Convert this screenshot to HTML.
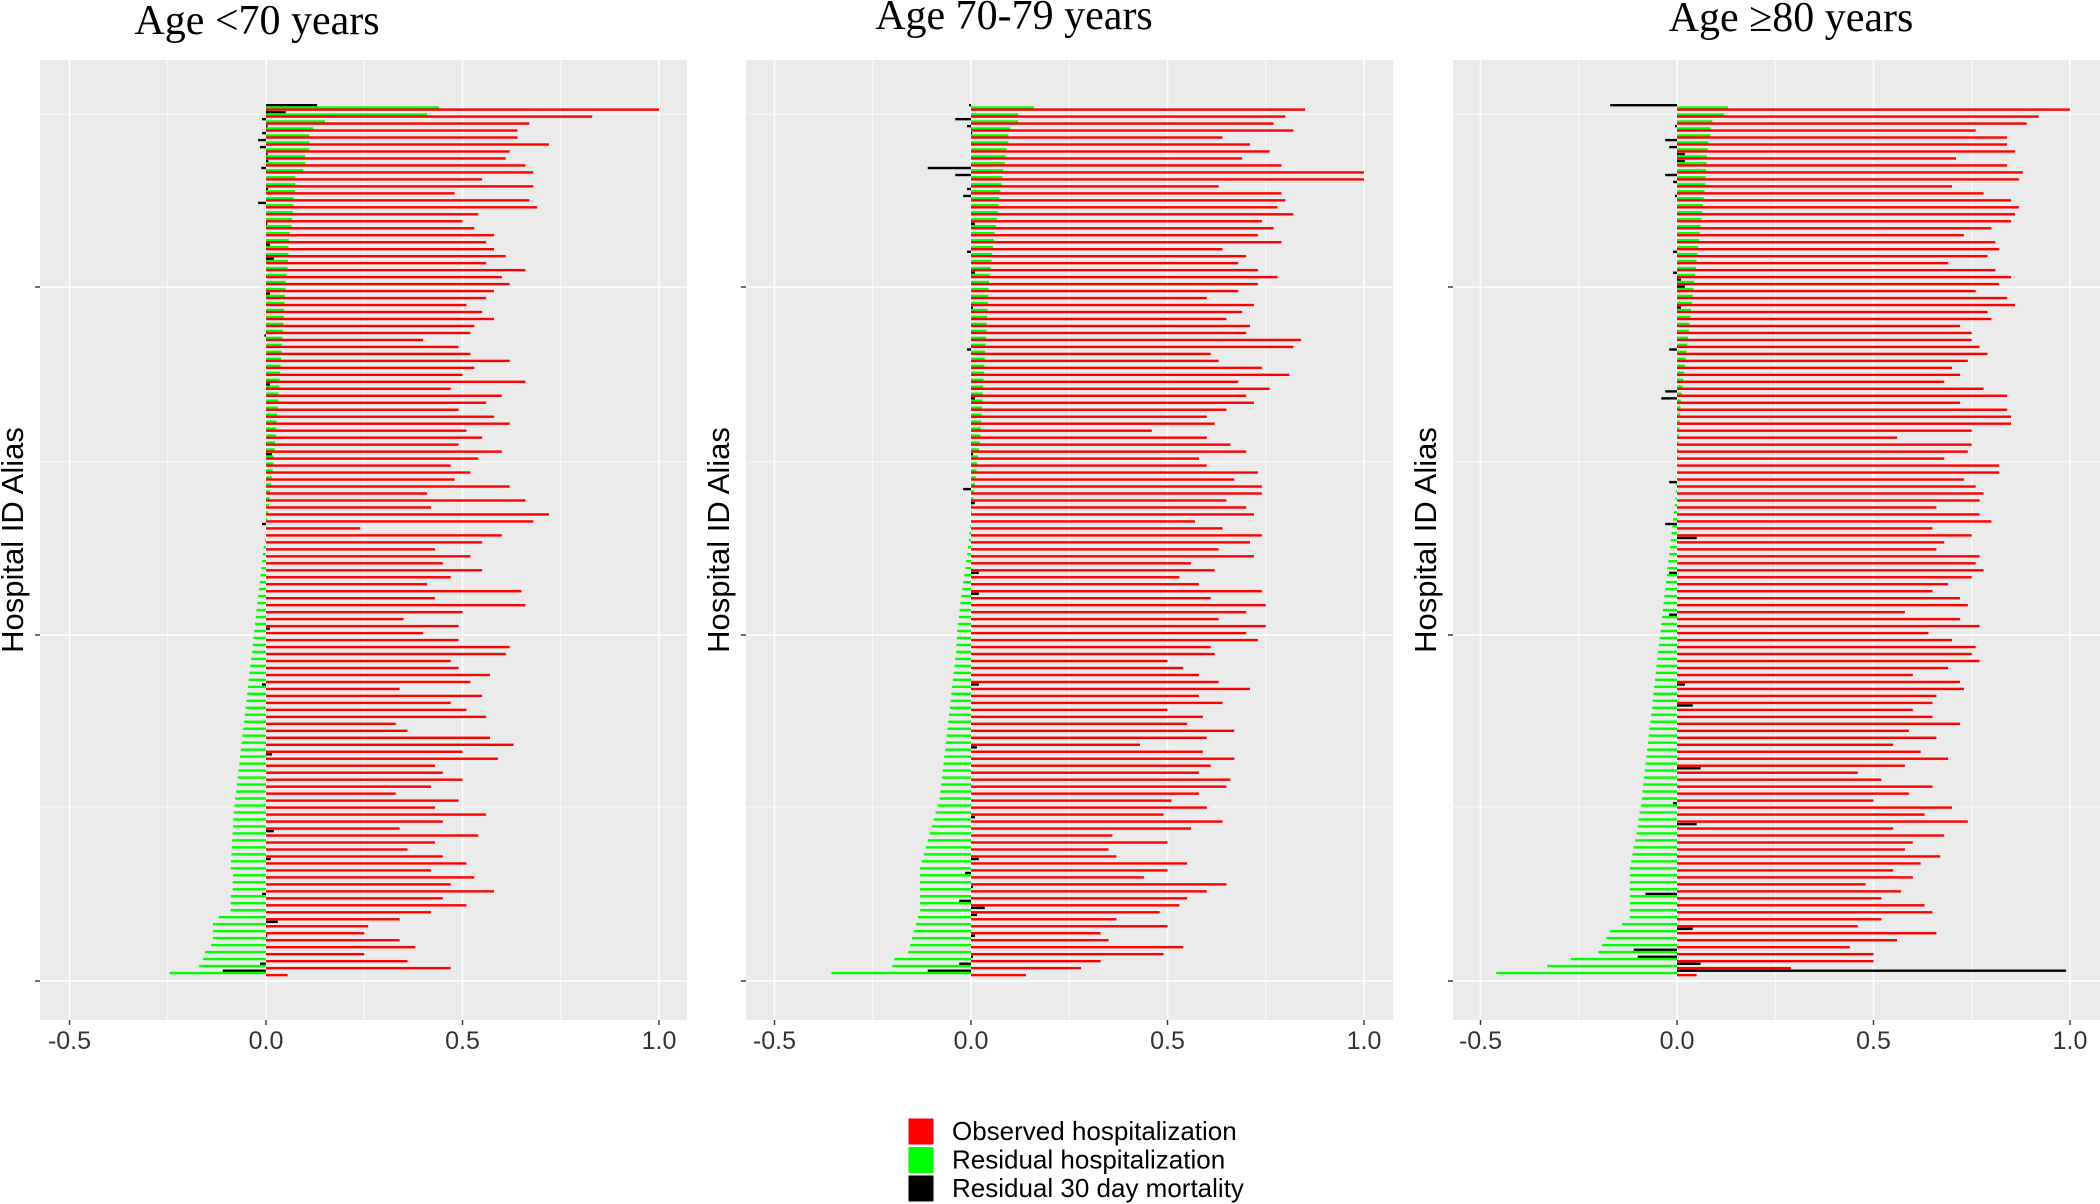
<!DOCTYPE html>
<html><head><meta charset="utf-8">
<style>
html,body{margin:0;padding:0;background:#fff;}
svg{display:block;}
</style></head>
<body>
<svg id="chart" width="2100" height="1204" viewBox="0 0 2100 1204" xmlns="http://www.w3.org/2000/svg"></svg>
<script>
const panelTitles = ["Age <70 years", "Age 70-79 years", "Age \u226580 years"];
const xTicks = [-0.5, 0, 0.5, 1.0];
const xTickLabels = ["-0.5", "0.0", "0.5", "1.0"];
const seriesNames = ["Observed hospitalization", "Residual hospitalization", "Residual 30 day mortality"];

const green1 = [0.44,0.41,0.15,0.12,0.11,0.11,0.11,0.10,0.10,0.095,
0.075,0.075,0.074,0.07,0.07,0.068,0.066,0.065,0.06,0.058,
0.057,0.057,0.056,0.055,0.052,0.05,0.05,0.048,0.047,0.046,
0.045,0.044,0.043,0.042,0.04,0.04,0.038,0.037,0.036,0.035,
0.034,0.032,0.031,0.03,0.028,0.027,0.026,0.025,0.023,0.022,
0.02,0.019,0.017,0.015,0.013,0.011,0.009,0.007,0.005,0.003,
0.001,-0.001,-0.003,-0.006,-0.008,-0.01,-0.012,-0.014,-0.016,-0.018,
-0.02,-0.022,-0.024,-0.026,-0.028,-0.03,-0.032,-0.034,-0.036,-0.038,
-0.04,-0.042,-0.044,-0.046,-0.048,-0.05,-0.052,-0.054,-0.056,-0.058,
-0.06,-0.062,-0.064,-0.066,-0.068,-0.07,-0.072,-0.074,-0.076,-0.078,
-0.08,-0.082,-0.083,-0.084,-0.085,-0.086,-0.087,-0.088,-0.089,-0.09,
-0.084,-0.085,-0.085,-0.09,-0.09,-0.09,-0.12,-0.135,-0.135,-0.135,
-0.14,-0.155,-0.16,-0.17,-0.245];
const red1 = [1.0,0.83,0.67,0.64,0.64,0.72,0.62,0.61,0.66,0.68,
0.55,0.68,0.48,0.67,0.69,0.54,0.50,0.53,0.58,0.56,
0.58,0.61,0.56,0.66,0.60,0.62,0.58,0.56,0.51,0.55,
0.58,0.53,0.52,0.40,0.49,0.52,0.62,0.53,0.50,0.66,
0.47,0.60,0.56,0.49,0.58,0.62,0.51,0.55,0.49,0.60,
0.54,0.47,0.52,0.48,0.62,0.41,0.66,0.42,0.72,0.68,
0.24,0.60,0.55,0.43,0.52,0.45,0.55,0.47,0.41,0.65,
0.43,0.66,0.50,0.35,0.49,0.40,0.49,0.62,0.61,0.47,
0.49,0.57,0.52,0.34,0.55,0.47,0.51,0.56,0.33,0.36,
0.57,0.63,0.50,0.59,0.43,0.45,0.50,0.42,0.33,0.49,
0.43,0.56,0.45,0.34,0.54,0.43,0.36,0.45,0.51,0.42,
0.53,0.47,0.58,0.45,0.51,0.42,0.34,0.26,0.25,0.34,
0.38,0.25,0.36,0.47,0.055];
const black1 = [0.13,0.05,-0.01,0.004,-0.01,-0.02,-0.015,0.004,0.006,-0.012,
0,0,0.005,0,-0.02,0,0,0.003,0,0,
0.01,0,0.02,0,0,0,0,0.01,0,0,
0,0,0,-0.004,0,0,0,0,0,0,
0.01,0,0,0,0,0,0,0,0,0,
0.015,0,0,0,0,0,0,0,0,0,
-0.01,0,0,0,0,0,0,0,0,0,
0,0,0,0,0,0.01,0,0,0,0,
0,0,0,-0.01,0,0,0,0,0,0,
0,0,0,0.015,0,0,0,0,0,0,
0,0,0,0,0.02,0,0,0,0.012,0,
0,0,0,-0.01,0,0,0,0.03,0,0.003,
0,0,0,-0.015,-0.11];

const green2 = [0.16,0.12,0.12,0.10,0.095,0.095,0.09,0.088,0.086,0.082,
0.08,0.078,0.075,0.072,0.07,0.068,0.066,0.063,0.06,0.058,
0.056,0.054,0.052,0.05,0.048,0.046,0.045,0.044,0.043,0.042,
0.041,0.04,0.039,0.038,0.037,0.036,0.035,0.034,0.033,0.032,
0.031,0.03,0.029,0.028,0.027,0.026,0.025,0.024,0.022,0.02,
0.018,0.016,0.014,0.012,0.01,0.008,0.006,0.004,0.002,0.0,
-0.002,-0.004,-0.006,-0.008,-0.01,-0.012,-0.014,-0.017,-0.02,-0.022,
-0.025,-0.027,-0.029,-0.031,-0.033,-0.035,-0.036,-0.037,-0.038,-0.04,
-0.042,-0.044,-0.046,-0.048,-0.05,-0.052,-0.054,-0.056,-0.058,-0.06,
-0.062,-0.064,-0.066,-0.068,-0.07,-0.072,-0.074,-0.076,-0.078,-0.08,
-0.085,-0.09,-0.095,-0.10,-0.105,-0.11,-0.115,-0.12,-0.125,-0.13,
-0.13,-0.13,-0.13,-0.13,-0.13,-0.13,-0.135,-0.14,-0.145,-0.15,
-0.155,-0.16,-0.195,-0.20,-0.355];
const red2 = [0.85,0.80,0.77,0.82,0.64,0.71,0.76,0.69,0.79,1.0,
1.0,0.63,0.79,0.80,0.78,0.82,0.74,0.77,0.73,0.79,
0.64,0.70,0.68,0.73,0.78,0.73,0.68,0.60,0.72,0.69,
0.65,0.71,0.70,0.84,0.82,0.61,0.63,0.74,0.81,0.68,
0.76,0.70,0.72,0.65,0.60,0.62,0.46,0.60,0.66,0.70,
0.58,0.60,0.73,0.67,0.74,0.74,0.65,0.70,0.72,0.57,
0.64,0.74,0.71,0.63,0.72,0.56,0.62,0.53,0.58,0.74,
0.61,0.75,0.70,0.63,0.75,0.70,0.73,0.61,0.62,0.50,
0.54,0.58,0.63,0.71,0.58,0.64,0.50,0.59,0.55,0.67,
0.60,0.43,0.59,0.67,0.61,0.58,0.66,0.65,0.58,0.51,
0.60,0.49,0.64,0.56,0.36,0.50,0.35,0.37,0.55,0.50,
0.44,0.65,0.60,0.55,0.53,0.48,0.37,0.50,0.33,0.35,
0.54,0.49,0.33,0.28,0.14];
const black2 = [-0.005,0,-0.04,-0.01,0.003,0,0,0,0,-0.11,
-0.04,0,-0.01,-0.02,0,0,0,0.01,0,0,
0,-0.01,0,0,0.01,0,0,0,0,0.005,
0,0,0,0,0,-0.01,0,0,0,0,
0,0,0.01,0,0,0,0,0,0,0,
0.005,0,0,0,0,-0.02,0,0.01,0,0,
0,0,0,0,0,0,0,0.02,0,0,
0.02,0,0,0,0,0,0,0,0,0,
0,0,0,0.02,0,0,0,0,0,0,
0,0,0.015,0,0,0,0,0,0,0,
0,0,0.01,0,0,0,0,0,0.02,0,
-0.015,0,0.005,0,-0.03,0.035,0.015,0,0,0.01,
0,0,0.005,-0.03,-0.11];

const green3 = [0.13,0.12,0.09,0.085,0.085,0.08,0.078,0.076,0.075,0.074,
0.073,0.072,0.07,0.068,0.066,0.064,0.062,0.06,0.058,0.056,
0.054,0.052,0.05,0.048,0.046,0.044,0.042,0.04,0.038,0.036,
0.034,0.032,0.03,0.028,0.026,0.024,0.022,0.02,0.018,0.016,
0.014,0.012,0.01,0.009,0.008,0.007,0.006,0.005,0.004,0.003,
0.002,0.001,0,-0.001,-0.002,-0.003,-0.004,-0.006,-0.008,-0.01,
-0.012,-0.014,-0.016,-0.018,-0.02,-0.022,-0.024,-0.026,-0.028,-0.03,
-0.032,-0.034,-0.036,-0.038,-0.04,-0.042,-0.044,-0.046,-0.048,-0.05,
-0.052,-0.054,-0.056,-0.058,-0.06,-0.062,-0.064,-0.066,-0.068,-0.07,
-0.072,-0.074,-0.076,-0.078,-0.08,-0.082,-0.084,-0.086,-0.088,-0.09,
-0.092,-0.095,-0.098,-0.10,-0.103,-0.106,-0.11,-0.113,-0.116,-0.12,
-0.12,-0.12,-0.12,-0.12,-0.12,-0.12,-0.12,-0.14,-0.17,-0.18,
-0.19,-0.20,-0.27,-0.33,-0.46];
const red3 = [1.0,0.92,0.89,0.76,0.84,0.84,0.86,0.71,0.84,0.88,
0.87,0.70,0.78,0.85,0.87,0.86,0.85,0.80,0.73,0.81,
0.82,0.79,0.69,0.81,0.85,0.82,0.76,0.84,0.86,0.79,
0.80,0.72,0.75,0.75,0.77,0.79,0.74,0.70,0.72,0.68,
0.78,0.84,0.72,0.84,0.85,0.85,0.75,0.56,0.75,0.74,
0.68,0.82,0.82,0.73,0.76,0.78,0.77,0.66,0.77,0.80,
0.65,0.75,0.68,0.66,0.77,0.76,0.78,0.75,0.69,0.65,
0.72,0.74,0.58,0.72,0.77,0.64,0.70,0.76,0.75,0.77,
0.69,0.60,0.72,0.73,0.66,0.65,0.60,0.65,0.72,0.59,
0.66,0.55,0.62,0.69,0.58,0.46,0.52,0.65,0.59,0.50,
0.70,0.63,0.74,0.55,0.68,0.60,0.58,0.67,0.62,0.55,
0.60,0.48,0.57,0.52,0.63,0.65,0.52,0.46,0.66,0.56,
0.44,0.50,0.50,0.29,0.05];
const black3 = [-0.17,0,0,-0.005,0,-0.03,-0.02,0.02,0.02,0,
-0.03,-0.01,0,-0.005,0,0,0,0,0,0,
0,-0.01,0,0,-0.01,0.01,0.02,0,0,0.01,
0,0,0,0,0,-0.02,0,0,0,0,
0,-0.03,-0.04,0,0,0,0,0,0,0,
0,0,0,0,-0.02,0,0,0,0,0,
-0.03,0,0.05,0,0,0,0,-0.02,0,0,
0,0,0,-0.02,0,0,0,0,0,0,
0,0,0,0.02,0,0,0.04,0,0,0,
0,0,0,0,0,0.06,0,0,0,0,
-0.01,0,0,0.05,0,0,0,0,0,0,
0,0,0,-0.08,0,0,0,0,0.04,0,
0,-0.11,-0.10,0.06,0.99];

const panels = [
  {green: green1, red: red1, black: black1, left: 40, right: 687, zero: 266},
  {green: green2, red: red2, black: black2, left: 746, right: 1393, zero: 971},
  {green: green3, red: red3, black: black3, left: 1453, right: 2100, zero: 1677}
];
const TOP = 60, BOTTOM = 1020, UNIT = 393;
const ROW0 = 104, ROWSTEP = 6.98, BARH = 2.4;
const NS = "http://www.w3.org/2000/svg";
const svg = document.getElementById('chart');

function mk(tag, attrs, parent) {
  const e = document.createElementNS(NS, tag);
  for (const k in attrs) e.setAttribute(k, attrs[k]);
  (parent || svg).appendChild(e);
  return e;
}

panels.forEach((p, pi) => {
  const xs = v => p.zero + v * UNIT;
  const ys = i => ROW0 + i * ROWSTEP;
  const g = mk('g', {});
  
  
  const bg = mk('rect', {x: p.left, y: TOP, width: p.right - p.left, height: BOTTOM - TOP, fill: '#ebebeb'}, g);
  
  
  [-0.25, 0.25, 0.75].forEach(v => {
    const l = mk('line', {x1: xs(v), x2: xs(v), y1: TOP, y2: BOTTOM, stroke: '#fff', 'stroke-width': 0.8}, g);
    
    
  });
  [114, 462, 807].forEach(y => {
    const l = mk('line', {x1: p.left, x2: p.right, y1: y, y2: y, stroke: '#fff', 'stroke-width': 0.8}, g);
    
    
  });
  xTicks.forEach(v => {
    const l = mk('line', {x1: xs(v), x2: xs(v), y1: TOP, y2: BOTTOM, stroke: '#fff', 'stroke-width': 1.6}, g);
    
    
  });
  [287, 635, 981].forEach(y => {
    const l = mk('line', {x1: p.left, x2: p.right, y1: y, y2: y, stroke: '#fff', 'stroke-width': 1.6}, g);
    
    
    const t = mk('line', {x1: p.left - 5, x2: p.left, y1: y, y2: y, stroke: '#333', 'stroke-width': 1.4}, g);
    
    
  });
  const n = p.green.length;
  const bars = [[p.black, '#000', 0], [p.green, '#00ff00', 2.3], [p.red, '#ff0000', 4.4]];
  for (let i = 0; i < n; i++) {
    bars.forEach(([arr, col, off], si) => {
      const v = arr[i] || 0;
      const x1 = Math.min(xs(0), xs(v)), w = Math.abs(xs(v) - xs(0));
      if (w < 0.2) return;
      const r = mk('rect', {x: x1, y: ys(i) + off, width: w, height: BARH, fill: col}, g);
      
      
    });
  }
  xTicks.forEach((v, k) => {
    const t = mk('line', {x1: xs(v), x2: xs(v), y1: BOTTOM, y2: BOTTOM + 5, stroke: '#333', 'stroke-width': 1.4}, g);
    
    
    const lb = mk('text', {x: xs(v), y: BOTTOM + 29, 'text-anchor': 'middle', 'font-family': 'Liberation Sans, sans-serif', 'font-size': 25, fill: '#333'}, g);
    lb.textContent = xTickLabels[k];
    
    
  });
  const cx = [257, 1014, 1791][pi], cy = [34, 29, 31][pi];
  const tt = mk('text', {x: cx, y: cy, 'text-anchor': 'middle', 'font-family': 'Liberation Serif, serif', 'font-size': 42, fill: '#000'}, g);
  tt.textContent = panelTitles[pi];
  
  
  const ax = p.left - 17;
  const yt = mk('text', {x: ax, y: 540, 'text-anchor': 'middle', 'font-family': 'Liberation Sans, sans-serif', 'font-size': 31, fill: '#000', transform: 'rotate(-90 ' + ax + ' 540)'}, g);
  yt.textContent = 'Hospital ID Alias';
  
  
});

const legendColors = ['#ff0000', '#00ff00', '#000000'];
const lg = mk('g', {});


seriesNames.forEach((nm, i) => {
  const y = 1118 + i * 28.5;
  const r = mk('rect', {x: 908, y: y, width: 26, height: 27, fill: legendColors[i], stroke: '#fff', 'stroke-width': 1}, lg);
  
  
  const t = mk('text', {x: 952, y: y + 22, 'font-family': 'Liberation Sans, sans-serif', 'font-size': 26, fill: '#000'}, lg);
  t.textContent = nm;
  
  
});
</script>
</body></html>
